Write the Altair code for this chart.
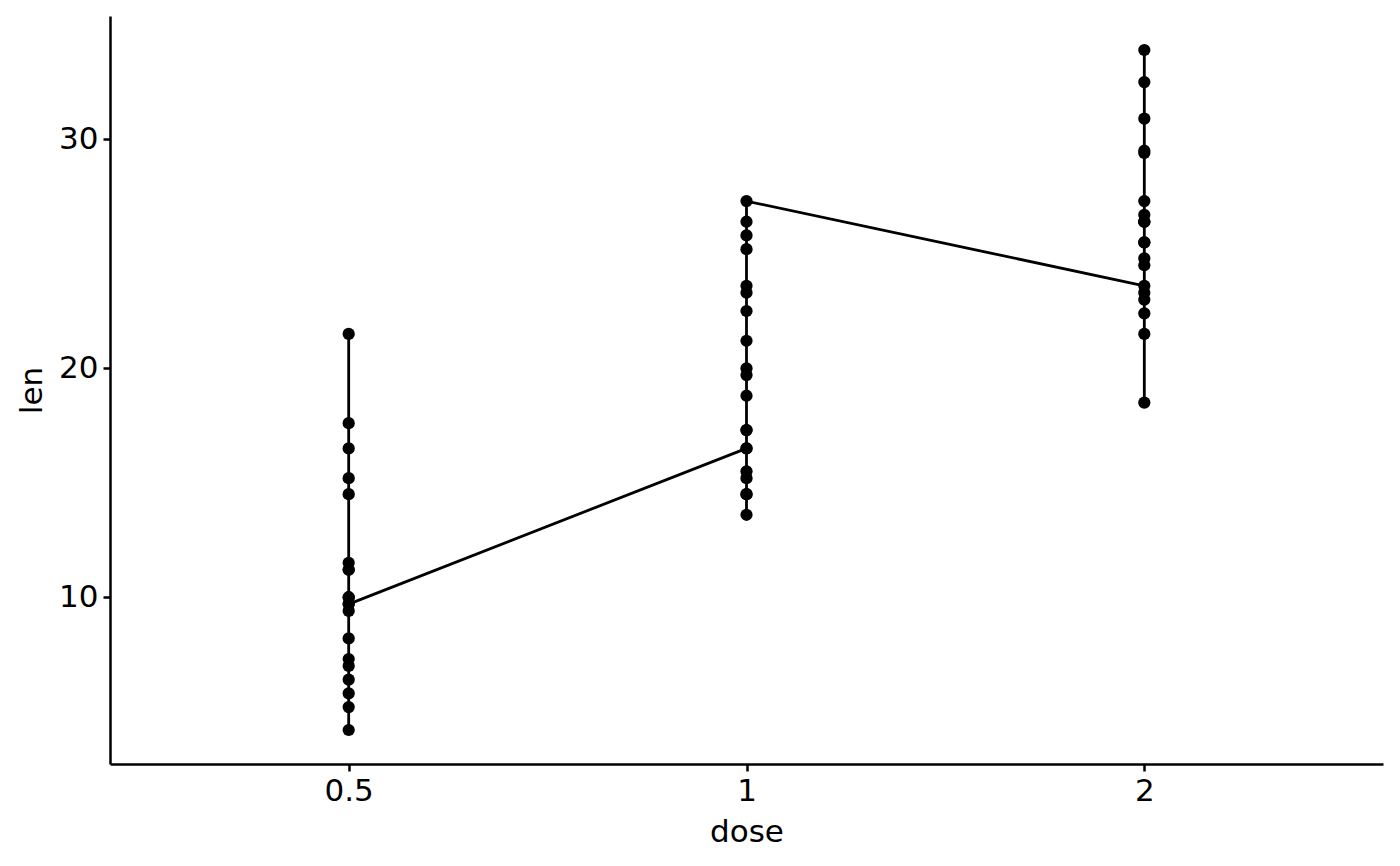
import altair as alt
import pandas as pd

doses = ["0.5", "1", "2"]
# ToothGrowth len values, grouped by dose in data order (VC then OJ)
len_05 = [4.2, 11.5, 7.3, 5.8, 6.4, 10, 11.2, 11.2, 5.2, 7,
          15.2, 21.5, 17.6, 9.7, 14.5, 10, 8.2, 9.4, 16.5, 9.7]
len_1 = [16.5, 16.5, 15.2, 17.3, 22.5, 17.3, 13.6, 14.5, 18.8, 15.5,
         19.7, 23.3, 23.6, 26.4, 20, 25.2, 25.8, 21.2, 14.5, 27.3]
len_2 = [23.6, 18.5, 33.9, 25.5, 26.4, 32.5, 26.7, 21.5, 23.3, 29.5,
         25.5, 26.4, 22.4, 24.5, 24.8, 30.9, 26.4, 27.3, 29.4, 23]

rows = []
for d, vals in zip(doses, [len_05, len_1, len_2]):
    for v in vals:
        rows.append({"dose": d, "len": v})
df = pd.DataFrame(rows)
df["idx"] = range(len(df))

font = "DejaVu Sans"
x = alt.X("dose:O", sort=doses, scale=alt.Scale(padding=0.6),
          axis=alt.Axis(labelAngle=0, title="dose"))
y = alt.Y("len:Q", scale=alt.Scale(domain=[2.715, 35.385], nice=False, zero=False),
          axis=alt.Axis(values=[10, 20, 30], title="len"))

base = alt.Chart(df)
line = base.mark_line(color="black", strokeWidth=2.8).encode(x=x, y=y, order="idx:Q")
pts = base.mark_circle(color="black", opacity=1, size=150).encode(x=x, y=y)

chart = (line + pts).properties(
    width=1273, height=748,
    autosize=alt.AutoSizeParams(type="none"),
    padding={"left": 102, "top": 8, "right": 1, "bottom": 94},
).configure_view(stroke=None).configure_axis(
    domainColor="black", domainWidth=2.5, tickColor="black", tickWidth=2.5,
    tickSize=7, labelColor="black", labelFont=font, labelFontSize=31,
    titleFont=font, titleFontSize=31, titleFontWeight="normal", titleColor="black",
    grid=False, labelPadding=5,
).configure_axisX(titlePadding=11).configure_axisY(titlePadding=10)

chart.save("out.html", embed_options={"renderer": "svg", "actions": False})
